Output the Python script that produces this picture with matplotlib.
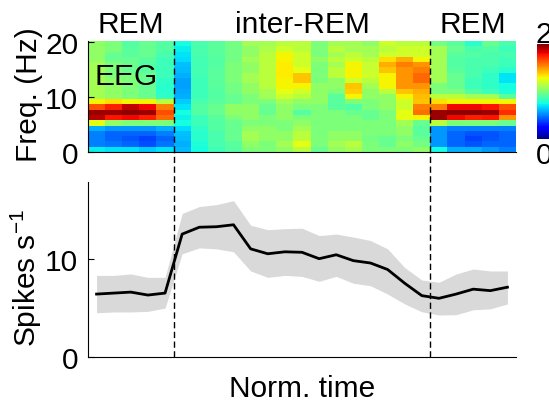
import matplotlib
matplotlib.use("Agg")
import matplotlib.pyplot as plt
import numpy as np

plt.rcParams['font.family'] = ['Liberation Sans', 'DejaVu Sans']
plt.rcParams['mathtext.fontset'] = 'custom'
plt.rcParams['mathtext.rm'] = 'Liberation Sans'
plt.rcParams['mathtext.it'] = 'Liberation Sans:italic'

# EEG power (normalised), one list per time bin, 20 Hz at the top down to 0 Hz
eeg_power = [
    [1.05, 1.05, 1.05, 1.05, 1.1, 1.1, 1.1, 1.1, 1.1, 1.1, 1.1, 1.3, 1.65, 1.95, 1.9, 1.25, 0.6, 0.5, 0.5, 0.5, 0.72],
    [1.0, 1.0, 0.95, 0.95, 1.0, 1.0, 1.0, 1.05, 1.05, 1.05, 1.05, 1.35, 1.75, 1.95, 1.78, 1.05, 0.55, 0.45, 0.45, 0.48, 0.7],
    [0.9, 0.92, 0.92, 0.95, 0.95, 0.95, 1.0, 1.0, 1.0, 1.0, 1.0, 1.3, 1.88, 1.97, 1.8, 1.0, 0.55, 0.45, 0.42, 0.45, 0.7],
    [0.95, 0.95, 0.95, 0.92, 0.9, 0.92, 0.95, 0.95, 0.95, 0.95, 0.95, 1.3, 1.8, 1.95, 1.75, 1.0, 0.55, 0.45, 0.38, 0.4, 0.65],
    [0.9, 0.9, 0.88, 0.85, 0.85, 0.85, 0.85, 0.82, 0.8, 0.8, 0.82, 1.15, 1.55, 1.65, 1.6, 1.0, 0.6, 0.5, 0.45, 0.48, 0.7],
    [0.75, 0.72, 0.7, 0.68, 0.63, 0.62, 0.6, 0.57, 0.57, 0.58, 0.6, 0.65, 0.7, 0.75, 0.73, 0.75, 0.68, 0.63, 0.62, 0.6, 0.62],
    [0.88, 0.88, 0.88, 0.86, 0.86, 0.86, 0.86, 0.85, 0.85, 0.85, 0.85, 0.88, 0.9, 0.9, 0.85, 0.85, 0.82, 0.8, 0.8, 0.78, 0.75],
    [0.92, 0.92, 0.92, 0.9, 0.9, 0.92, 0.92, 0.92, 0.92, 0.9, 0.9, 0.92, 0.95, 0.95, 0.92, 0.9, 0.9, 0.88, 0.88, 0.88, 0.85],
    [0.98, 0.98, 0.98, 0.98, 1.0, 1.0, 1.0, 1.0, 0.98, 0.98, 0.95, 0.95, 1.05, 1.05, 1.0, 0.95, 0.95, 0.95, 0.95, 0.92, 0.9],
    [1.1, 1.05, 1.05, 1.1, 1.05, 1.05, 1.1, 1.1, 1.05, 1.05, 1.0, 1.0, 1.05, 1.05, 1.05, 1.0, 1.05, 1.1, 1.1, 1.05, 1.0],
    [1.1, 1.12, 1.15, 1.15, 1.15, 1.15, 1.15, 1.15, 1.15, 1.1, 1.1, 1.0, 0.95, 0.95, 1.0, 1.0, 1.05, 1.05, 1.05, 1.0, 1.0],
    [1.15, 1.2, 1.3, 1.3, 1.32, 1.32, 1.32, 1.3, 1.3, 1.25, 1.2, 1.1, 1.05, 1.05, 1.05, 1.0, 1.0, 1.05, 1.05, 1.1, 1.05],
    [1.15, 1.15, 1.2, 1.2, 1.2, 1.25, 1.4, 1.4, 1.3, 1.2, 1.15, 1.05, 1.0, 0.9, 1.0, 1.05, 1.1, 1.15, 1.15, 1.25, 1.15],
    [1.0, 1.0, 1.0, 1.05, 1.0, 1.0, 1.0, 1.0, 1.05, 1.05, 1.05, 1.05, 1.0, 1.0, 1.0, 1.0, 1.0, 1.0, 1.0, 1.0, 0.95],
    [1.1, 1.15, 1.1, 1.15, 1.1, 1.15, 1.15, 1.05, 1.05, 1.0, 0.92, 0.92, 0.92, 1.0, 1.0, 1.0, 1.0, 1.05, 1.05, 1.1, 1.05],
    [1.1, 1.1, 1.15, 1.2, 1.3, 1.3, 1.3, 1.2, 1.4, 1.38, 1.3, 1.0, 0.9, 0.95, 1.0, 1.0, 1.0, 1.05, 1.05, 1.15, 1.1],
    [1.05, 1.1, 1.1, 1.15, 1.18, 1.18, 1.2, 1.15, 1.1, 1.05, 1.05, 1.0, 1.0, 0.95, 0.95, 1.0, 1.0, 1.0, 0.98, 1.0, 1.0],
    [1.2, 1.15, 1.2, 1.35, 1.45, 1.4, 1.3, 1.3, 1.3, 1.15, 1.05, 1.05, 1.05, 1.0, 1.0, 1.0, 1.0, 1.0, 0.95, 0.95, 1.0],
    [1.15, 1.2, 1.2, 1.45, 1.55, 1.5, 1.5, 1.5, 1.5, 1.4, 1.3, 1.2, 1.2, 1.25, 1.25, 1.1, 1.05, 1.05, 1.0, 1.05, 1.0],
    [1.15, 1.2, 1.2, 1.3, 1.5, 1.55, 1.6, 1.6, 1.5, 1.45, 1.42, 1.4, 1.55, 1.58, 1.3, 0.95, 0.92, 0.92, 0.95, 0.98, 1.05],
    [0.98, 1.1, 1.1, 1.1, 1.1, 1.1, 1.1, 1.1, 1.0, 1.0, 1.15, 1.35, 1.55, 1.95, 1.95, 1.15, 0.55, 0.55, 0.55, 0.55, 0.75],
    [0.92, 0.95, 0.92, 0.9, 0.9, 0.92, 0.95, 0.95, 0.95, 1.0, 1.15, 1.3, 1.8, 1.97, 1.8, 1.0, 0.5, 0.45, 0.45, 0.45, 0.6],
    [0.8, 0.88, 0.9, 0.88, 0.88, 0.88, 0.88, 0.85, 0.85, 0.9, 1.1, 1.3, 1.8, 1.97, 1.75, 1.0, 0.5, 0.42, 0.38, 0.42, 0.6],
    [0.95, 0.9, 0.88, 0.88, 0.88, 0.85, 0.82, 0.82, 0.82, 0.85, 1.1, 1.3, 1.78, 1.95, 1.78, 1.0, 0.5, 0.42, 0.42, 0.45, 0.55],
    [0.88, 0.85, 0.88, 0.85, 0.85, 0.8, 0.7, 0.7, 0.75, 0.78, 0.92, 1.3, 1.65, 1.72, 1.5, 0.95, 0.5, 0.45, 0.45, 0.45, 0.5],
]

# firing rate, mean and shaded bounds, per time bin
rate_mean = [6.4, 6.5, 6.6, 6.3, 6.5, 12.5, 13.2, 13.25, 13.45, 11.0, 10.5, 10.7, 10.65,
             10.0, 10.4, 9.8, 9.56, 8.9, 7.5, 6.24, 5.97, 6.4, 6.9, 6.75, 7.1]
rate_upper = [8.3, 8.3, 8.45, 8.1, 8.1, 14.6, 15.3, 15.5, 15.9, 13.4, 12.95, 13.05, 13.1,
              12.35, 12.5, 12.2, 11.85, 11.0, 9.1, 7.83, 7.6, 8.44, 8.95, 8.75, 8.75]
rate_lower = [4.5, 4.58, 4.58, 4.64, 4.98, 10.5, 11.1, 11.0, 10.7, 8.75, 8.1, 8.3, 8.2,
              7.7, 8.2, 7.5, 7.25, 6.4, 5.4, 4.6, 4.27, 4.3, 4.8, 4.9, 5.4]

epoch_labels = ['REM', 'inter-REM', 'REM']
epoch_edges = [0, 5, 20, 25]

fs = 21.5
n_bins = len(rate_mean)
x = np.arange(n_bins) + 0.5
fmax = 20.2

fig = plt.figure(figsize=(5.49, 4.02), dpi=100)
ax1 = fig.add_axes([88 / 549, 1 - 153 / 402, 428 / 549, 111 / 402])
ax2 = fig.add_axes([88 / 549, 1 - 358 / 402, 428 / 549, 175 / 402])
cax = fig.add_axes([537 / 549, 1 - 140 / 402, 0.04, 95 / 402])

# spectrogram
power = np.array(eeg_power).T
im = ax1.imshow(power, cmap='jet', vmin=0, vmax=2, aspect='auto', origin='upper',
                extent=[0, n_bins, 0, fmax], interpolation='nearest')
ax1.set_xlim(0, n_bins)
ax1.set_ylim(0, fmax)
ax1.set_xticks([])
ax1.set_yticks([0, 10, 20])
ax1.tick_params(axis='y', direction='in', length=4, labelsize=fs, pad=7)
for s in ['top', 'right']:
    ax1.spines[s].set_visible(False)
ax1.set_ylabel('Freq. (Hz)', fontsize=fs)
ax1.yaxis.set_label_coords(-0.105, 0.53)
ax1.text(0.4, 12.4, 'EEG', fontsize=fs, va='baseline', ha='left')

for e in epoch_edges[1:-1]:
    ax1.axvline(e, color='k', lw=1, ls=(0, (4.5, 2.5)))
    ax2.axvline(e, ymin=0, ymax=(358 - 153) / 175, color='k', lw=1,
                ls=(0, (4.5, 2.5)), clip_on=False)

for lab, a, b in zip(epoch_labels, epoch_edges[:-1], epoch_edges[1:]):
    ax1.text((a + b) / 2, 1.0 + 9 / 111, lab, fontsize=fs, ha='center', va='baseline',
             transform=ax1.get_xaxis_transform())

cb = fig.colorbar(im, cax=cax)
cb.set_ticks([])
cb.outline.set_visible(False)
fig.text(544 / 549, 1 - 35 / 402, '2', fontsize=fs, ha='center', va='center')
fig.text(544 / 549, 1 - 156 / 402, '0', fontsize=fs, ha='center', va='center')

# firing rate
ax2.fill_between(x, rate_lower, rate_upper, color='#d9d9d9', lw=0)
ax2.plot(x, rate_mean, color='k', lw=2)
ax2.set_xlim(0, n_bins)
ax2.set_ylim(0, 17.8)
ax2.set_xticks([])
ax2.set_yticks([0, 10])
ax2.tick_params(axis='y', direction='in', length=4, labelsize=fs, pad=7)
for s in ['top', 'right']:
    ax2.spines[s].set_visible(False)
ax2.set_ylabel('Spikes s$^{-1}$', fontsize=fs)
ax2.yaxis.set_label_coords(-0.103, 0.46)
ax2.set_xlabel('Norm. time', fontsize=fs)
ax2.xaxis.set_label_coords(0.5, -0.1)

fig.savefig('out.png', dpi=100)
